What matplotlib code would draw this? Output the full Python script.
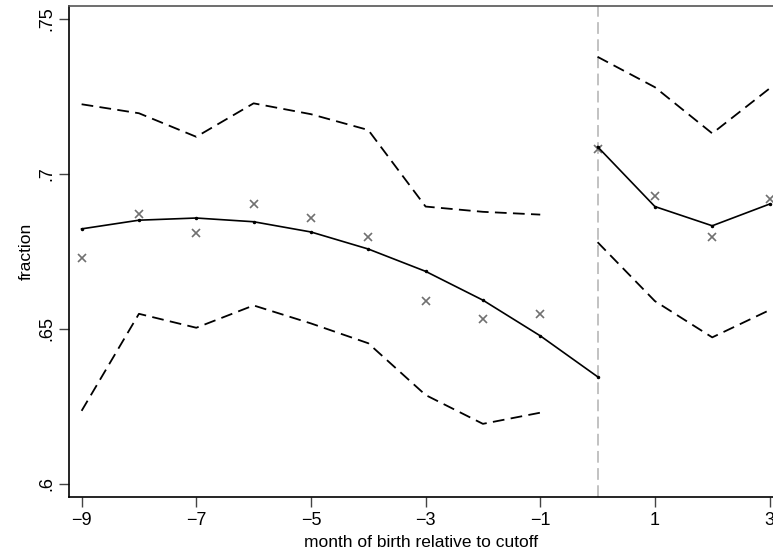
import matplotlib
matplotlib.use("Agg")
import matplotlib.pyplot as plt

plt.rcParams['font.family'] = ['Liberation Sans', 'DejaVu Sans']

# Data
x_left = [-9, -8, -7, -6, -5, -4, -3, -2, -1]
x_right = [0, 1, 2, 3]
x_fit_left = [-9, -8, -7, -6, -5, -4, -3, -2, -1, 0]

scatter_left = [0.6728, 0.6872, 0.6810, 0.6903, 0.6859, 0.6796, 0.6591, 0.6532, 0.6549]
scatter_right = [0.7081, 0.6930, 0.6798, 0.6918]

fit_left = [0.6823, 0.6851, 0.6858, 0.6846, 0.6813, 0.6758, 0.6686, 0.6593, 0.6478, 0.6346]
fit_right = [0.7088, 0.6895, 0.6833, 0.6903]

upper_left = [0.7225, 0.7196, 0.7120, 0.7228, 0.7193, 0.7142, 0.6895, 0.6878, 0.6869]
lower_left = [0.6236, 0.6549, 0.6504, 0.6576, 0.6518, 0.6454, 0.6287, 0.6194, 0.6230]
upper_right = [0.7378, 0.7280, 0.7131, 0.7276]
lower_right = [0.6780, 0.6590, 0.6473, 0.6561]

xticks = [-9, -7, -5, -3, -1, 1, 3]
xticklabels = ['\u22129', '\u22127', '\u22125', '\u22123', '\u22121', '1', '3']
yticks = [0.6, 0.65, 0.7, 0.75]
yticklabels = ['.6', '.65', '.7', '.75']

W, H = 773, 554
fig = plt.figure(figsize=(W / 100, H / 100), dpi=100)
ax = fig.add_axes([69 / W, 1 - 497 / H, (773 - 69) / W, (497 - 6) / H])

dash = (0, (6.5, 3.5))
ax.axvline(0, color='#bdbdbd', lw=1.3, linestyle=(0, (6.5, 3)), zorder=1)

ax.plot(x_left, scatter_left, linestyle='none', marker='x', color='#707070',
        markersize=6, markeredgewidth=1.2, zorder=3)
ax.plot(x_right, scatter_right, linestyle='none', marker='x', color='#707070',
        markersize=6, markeredgewidth=1.2, zorder=3)

ax.plot(x_fit_left, fit_left, color='black', lw=1.2, marker='o', markersize=1.5, zorder=4)
ax.plot(x_right, fit_right, color='black', lw=1.2, marker='o', markersize=1.5, zorder=4)

for xs, ys in [(x_left, upper_left), (x_left, lower_left),
               (x_right, upper_right), (x_right, lower_right)]:
    ax.plot(xs, ys, color='black', lw=1.3, linestyle=dash, zorder=2)

ax.set_xlim(-9.22, 3.06)
ax.set_ylim(0.5958, 0.7542)

ax.set_xticks(xticks)
ax.set_xticklabels(xticklabels)
ax.set_yticks(yticks)
ax.set_yticklabels(yticklabels, rotation=90, va='center')

ax.tick_params(axis='both', direction='out', length=7, width=1, color='#444444',
               labelsize=13)
ax.tick_params(axis='x', pad=4)
ax.tick_params(axis='y', pad=3)

ax.spines['right'].set_visible(False)
ax.spines['top'].set_color('#555555')
ax.spines['left'].set_color('black')
ax.spines['bottom'].set_color('black')
for s in ['top', 'left', 'bottom']:
    ax.spines[s].set_linewidth(1.2)

ax.set_xlabel('month of birth relative to cutoff', fontsize=12.5, labelpad=4)
ax.set_ylabel('fraction', fontsize=12.5, labelpad=3)

fig.savefig('out.png', dpi=100)
